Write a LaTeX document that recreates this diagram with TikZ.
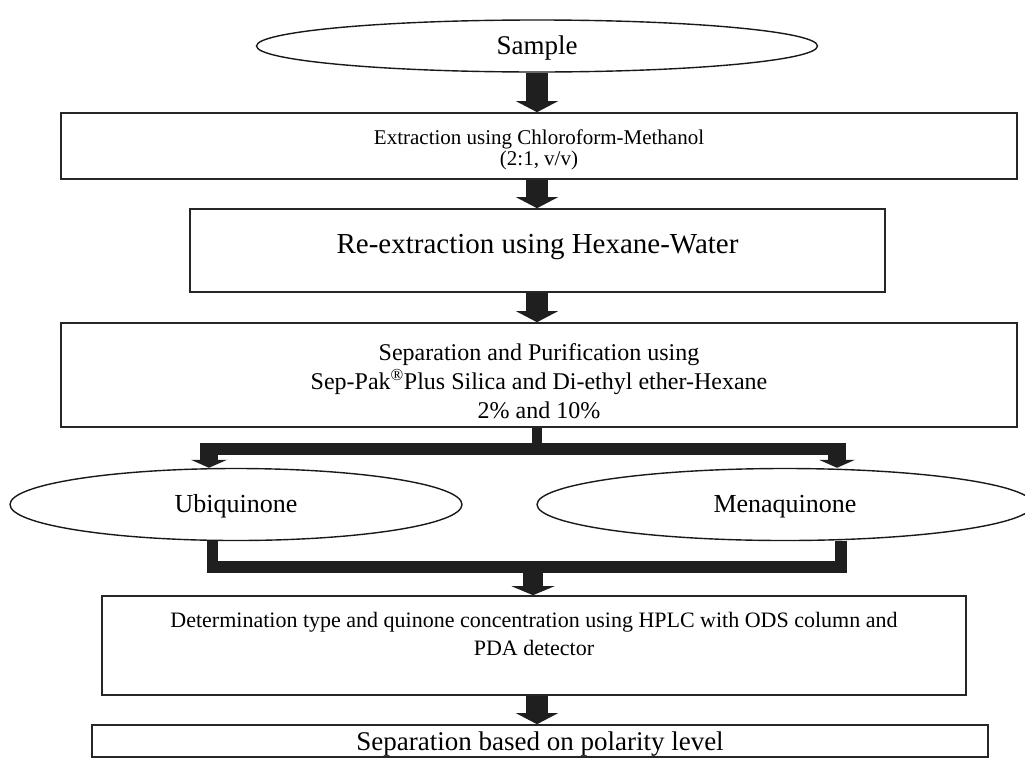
\documentclass[tikz,border=0pt]{standalone}
\usepackage{fontspec}
\setmainfont{Liberation Serif}
\usetikzlibrary{arrows.meta,shapes.geometric}
\tikzset{
  frame/.style={draw=black!85, line width=1.6pt, inner sep=0pt},
  oval/.style={ellipse, draw=black!90, line width=1.4pt, inner sep=0pt},
  txt/.style={inner sep=0pt, align=center},
  blk/.style={draw=black!88, line width=22pt, -{Triangle[width=42pt,length=11pt,line width=0pt]}},
  blkm/.style={draw=black!88, line width=20pt, -{Triangle[width=43pt,length=9pt,line width=0pt]}},
  drop/.style={draw=black!88, line width=18pt, -{Triangle[width=36pt,length=8pt,line width=0pt]}},
  thin/.style={draw=black!88, line width=10pt},
  bar/.style={draw=black!88, line width=12pt},
}
\begin{document}
\begin{tikzpicture}[x=1pt,y=-1pt]
\useasboundingbox (0,0) rectangle (1025,758);
% shapes
\node[oval, minimum width=561pt, minimum height=52pt] (sample) at (537,46) {};
\node[frame, minimum width=956pt, minimum height=66pt] (ext) at (539,146) {};
\node[frame, minimum width=695pt, minimum height=83pt] (reext) at (537.5,250.5) {};
\node[frame, minimum width=956pt, minimum height=104pt] (sep) at (539,375) {};
\node[oval, minimum width=452pt, minimum height=72pt] (ubi) at (236,504.5) {};
\node[oval, minimum width=496pt, minimum height=72pt] (mena) at (785,504.5) {};
\node[frame, minimum width=864pt, minimum height=99pt] (hplc) at (534,645.5) {};
\node[frame, minimum width=896pt, minimum height=32pt] (pol) at (540,741) {};
% texts
\node[txt, font=\fontsize{27}{32}\selectfont] (sample-t) at ([yshift=-2pt]sample.center) {Sample};
\node[txt, font=\fontsize{21}{21}\selectfont] (ext-t) at ([yshift=-4pt]ext.center) {Extraction using Chloroform-Methanol\\(2:1, v/v)};
\node[txt, font=\fontsize{29}{34}\selectfont] (reext-t) at ([yshift=3pt]reext.center) {Re-extraction using Hexane-Water};
\node[txt, font=\fontsize{24}{29}\selectfont] (sep-t) at ([yshift=-6pt]sep.center) {Separation and Purification using\\Sep-Pak\textsuperscript{\textregistered}Plus Silica and Di-ethyl ether-Hexane\\2\% and 10\%};
\node[txt, font=\fontsize{26}{30}\selectfont] (ubi-t) at ([yshift=-2pt]ubi.center) {Ubiquinone};
\node[txt, font=\fontsize{26}{30}\selectfont] (mena-t) at ([yshift=-2pt]mena.center) {Menaquinone};
\node[txt, font=\fontsize{22}{28}\selectfont] (hplc-t) at ([yshift=11.5pt]hplc.center) {Determination type and quinone concentration using HPLC with ODS column and\\PDA detector};
\node[txt, font=\fontsize{27}{32}\selectfont] (pol-t) at ([yshift=-3.5pt]pol.center) {Separation based on polarity level};
% coordinates
\coordinate (ax) at (537,0);
\coordinate (bL) at (209,449);
\coordinate (bR) at (837,449);
\coordinate (bM) at (537,449);
\coordinate (mL) at (212.5,567);
\coordinate (mR) at (841,567);
\coordinate (mM) at (533,567);
% straight block arrows
\draw[blk] (sample.south -| ax) -- (ext.north -| ax);
\draw[blk] (ext.south -| ax) -- (reext.north -| ax);
\draw[blk] (reext.south -| ax) -- (sep.north -| ax);
% split
\draw[thin] (sep.south -| bM) -- (bM);
\draw[bar] ([xshift=-9pt]bL) -- ([xshift=8pt]bR);
\draw[drop] ([yshift=6pt]bL) -- (bL |- ubi.north);
\draw[drop] ([yshift=6pt]bR) -- (bR |- mena.north);
% merge
\draw[thin, line width=11pt] (ubi.south -| mL) -- ([yshift=-6pt]mL);
\draw[thin, line width=12pt] (mena.south -| mR) -- ([yshift=-6pt]mR);
\draw[bar] ([xshift=-5.5pt]mL) -- ([xshift=6pt]mR);
\draw[blkm] ([yshift=6pt]mM) -- (hplc.north -| mM);
% last
\draw[blk] (hplc.south -| ax) -- (pol.north -| ax);
\end{tikzpicture}
\end{document}
